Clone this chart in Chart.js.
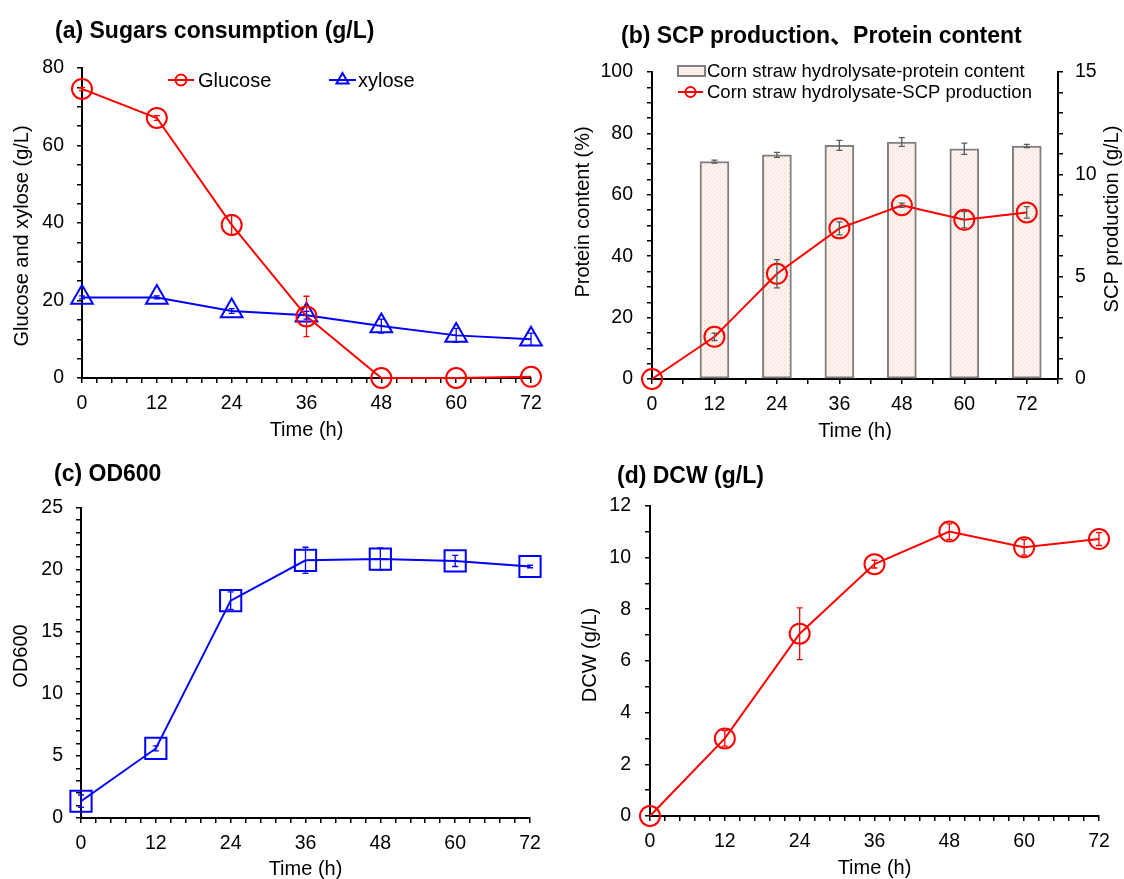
<!DOCTYPE html>
<html>
<head>
<meta charset="utf-8">
<script src="https://cdn.jsdelivr.net/npm/chart.js@4.4.1/dist/chart.umd.min.js"></script>
<style>
  body { margin: 0; background: #fff; width: 1124px; height: 879px; overflow: hidden; position: relative;
         font-family: "Liberation Sans", Arial, "Noto Sans CJK SC", sans-serif; }
  canvas { position: absolute; }
  .title { position: absolute; z-index: 2; font-weight: bold; font-size: 23px; line-height: 28px;
           white-space: nowrap; color: #000; }
</style>
</head>
<body>
<canvas id="chartA" width="560" height="440" style="left:0;top:0"></canvas>
<canvas id="chartB" width="564" height="440" style="left:560px;top:0"></canvas>
<canvas id="chartC" width="560" height="439" style="left:0;top:440px"></canvas>
<canvas id="chartD" width="564" height="439" style="left:560px;top:440px"></canvas>
<div class="title" style="left:55px;top:16px">(a) Sugars consumption (g/L)</div>
<div class="title" style="left:621px;top:21px">(b) SCP production、Protein content</div>
<div class="title" style="left:54px;top:459px">(c) OD600</div>
<div class="title" style="left:617px;top:461px">(d) DCW (g/L)</div>
<script>
// sampling times and tick labels
var hours = [0, 12, 24, 36, 48, 60, 72];
var timeTickLabels = [0, 12, 24, 36, 48, 60, 72];

// (a) sugars
var glucose = [74.6, 67.1, 39.5, 15.9, 0, 0, 0.3];
var glucoseErr = [0.4, 0.6, 2.6, 5.2, 0, 0, 0];
var xylose = [20.8, 20.8, 17.3, 16.2, 13.4, 11.0, 10.0];
var xyloseErr = [0.4, 0.4, 0.6, 1.0, 1.8, 1.8, 1.6];

// (b) protein content (bars) and SCP production (line)
var proteinHours = [12, 24, 36, 48, 60, 72];
var protein = [70.8, 73.0, 76.1, 77.2, 75.0, 75.9];
var proteinErr = [0.5, 0.8, 1.6, 1.4, 1.8, 0.5];
var scp = [0, 2.06, 5.14, 7.36, 8.49, 7.78, 8.14];
var scpErr = [0, 0.18, 0.69, 0.32, 0.1, 0.4, 0.28];

// (c) OD600
var od600 = [1.35, 5.6, 17.5, 20.75, 20.85, 20.7, 20.25];
var od600Err = [0.5, 0.2, 0.7, 1.05, 0.9, 0.45, 0.1];

// (d) DCW
var dcw = [0, 3.0, 7.05, 9.74, 11.0, 10.39, 10.71];
var dcwErr = [0, 0.3, 1.0, 0.15, 0.3, 0.3, 0.25];

var RED = '#ff0000', BLUE = '#0000ff', FONT = '"Liberation Sans", Arial, sans-serif';
Chart.defaults.font.family = FONT;
Chart.defaults.color = '#000';

function pts(xs, ys) {
  return xs.map(function (x, i) { return { x: x, y: ys[i] }; });
}

function drawMarker(ctx, kind, x, y, r) {
  ctx.beginPath();
  if (kind === 'triangle') {
    ctx.moveTo(x, y - r);
    ctx.lineTo(x + r * 0.866, y + r / 2);
    ctx.lineTo(x - r * 0.866, y + r / 2);
    ctx.closePath();
  } else {
    ctx.arc(x, y, r, 0, Math.PI * 2);
  }
  ctx.stroke();
}

// vertical error bars, drawn with the dataset's own y scale
var errorBars = {
  id: 'errorBars',
  afterDatasetsDraw: function (chart) {
    var ctx = chart.ctx;
    chart.data.datasets.forEach(function (ds, i) {
      if (!ds.errors) return;
      var meta = chart.getDatasetMeta(i);
      var ys = chart.scales[meta.yAxisID];
      ctx.save();
      ctx.strokeStyle = ds.errorColor;
      ctx.lineWidth = 1.3;
      meta.data.forEach(function (el, j) {
        var e = ds.errors[j];
        if (!e) return;
        var v = ds.data[j].y;
        var top = ys.getPixelForValue(v + e), bot = ys.getPixelForValue(v - e);
        ctx.beginPath();
        ctx.moveTo(el.x, top); ctx.lineTo(el.x, bot);
        ctx.moveTo(el.x - 3, top); ctx.lineTo(el.x + 3, top);
        ctx.moveTo(el.x - 3, bot); ctx.lineTo(el.x + 3, bot);
        ctx.stroke();
      });
      ctx.restore();
    });
  }
};

function makeLegend(items, size) {
  return {
    id: 'sampleLegend',
    afterDraw: function (chart) {
      var ctx = chart.ctx, a = chart.chartArea;
      ctx.save();
      ctx.font = size + 'px ' + FONT;
      ctx.textBaseline = 'middle';
      ctx.textAlign = 'left';
      items.forEach(function (it) {
        var x = a.left + it.dx, y = a.top + it.dy;
        ctx.lineWidth = 2;
        ctx.strokeStyle = it.color;
        if (it.kind === 'box') {
          ctx.fillStyle = it.fill;
          ctx.fillRect(x, y - 5, it.w, 10);
          ctx.strokeRect(x, y - 5, it.w, 10);
        } else {
          ctx.beginPath(); ctx.moveTo(x, y); ctx.lineTo(x + it.w, y); ctx.stroke();
          drawMarker(ctx, it.kind, x + it.w / 2, y, it.r);
        }
        ctx.fillStyle = '#000';
        ctx.fillText(it.text, x + it.tx, y + 1);
      });
      ctx.restore();
    }
  };
}

function makeSideTitles(items) {
  return {
    id: 'sideTitles',
    afterDraw: function (chart) {
      var ctx = chart.ctx;
      items.forEach(function (t) {
        ctx.save();
        ctx.translate(t.x, t.y);
        ctx.rotate(-Math.PI / 2);
        ctx.font = '20px ' + FONT;
        ctx.fillStyle = '#000';
        ctx.textAlign = 'center';
        ctx.textBaseline = 'middle';
        ctx.fillText(t.text, 0, 0);
        ctx.restore();
      });
    }
  };
}

function xAxis(max, step, height, titlePad) {
  return {
    type: 'linear', min: 0, max: max, offset: false,
    grid: { drawOnChartArea: false, offset: false, tickLength: 5, color: '#000', lineWidth: 1.5 },
    border: { color: '#000', width: 2 },
    ticks: { stepSize: step, autoSkip: false, maxRotation: 0, padding: 9, font: { size: 19.5 }, color: '#000',
      callback: function (v) { return timeTickLabels.indexOf(v) >= 0 ? String(v) : ''; } },
    title: { display: true, text: 'Time (h)', font: { size: 20 }, color: '#000', padding: { top: 0, bottom: titlePad } },
    afterFit: function (s) { s.height = height; }
  };
}

function yAxis(max, step, major, width, pad, pos) {
  return {
    type: 'linear', position: pos || 'left', min: 0, max: max,
    grid: { drawOnChartArea: false, tickLength: 5, color: '#000', lineWidth: 1.5 },
    border: { color: '#000', width: 2 },
    ticks: { stepSize: step, autoSkip: false, padding: pad, font: { size: 19.5 }, color: '#000',
      callback: function (v) { return v % major === 0 ? String(v) : ''; } },
    afterFit: function (s) { s.width = width; }
  };
}

function lineSet(label, ys, errs, color, style, r, axis) {
  return {
    type: 'line', label: label, data: pts(hours, ys), errors: errs, errorColor: color,
    yAxisID: axis || 'y', borderColor: color, borderWidth: 2, tension: 0, clip: false,
    pointStyle: style, pointRadius: r, pointBorderWidth: 2, pointBorderColor: color,
    pointBackgroundColor: 'rgba(0,0,0,0)', order: 1
  };
}

function baseOptions(padding) {
  return {
    responsive: false, animation: false, events: [],
    layout: { padding: padding },
    plugins: { legend: { display: false }, tooltip: { enabled: false } }
  };
}

// (a)
var optA = baseOptions({ left: 0, top: 68, right: 29, bottom: 0 });
optA.scales = { x: xAxis(72, 2.4, 62, -2), y: yAxis(80, 5, 20, 82, 13) };
new Chart(document.getElementById('chartA'), {
  type: 'line',
  data: { datasets: [
    lineSet('Glucose', glucose, glucoseErr, RED, 'circle', 10),
    lineSet('xylose', xylose, xyloseErr, BLUE, 'triangle', 12.5)
  ] },
  options: optA,
  plugins: [errorBars,
    makeLegend([
      { kind: 'circle', text: 'Glucose', color: RED, dx: 86, dy: 12, w: 26, r: 5.5, tx: 30 },
      { kind: 'triangle', text: 'xylose', color: BLUE, dx: 247, dy: 12, w: 27, r: 7, tx: 29 }
    ], 20),
    makeSideTitles([{ text: 'Glucose and xylose (g/L)', x: 22, y: 236 }])]
});

// (b)
function barPattern() {
  var c = document.createElement('canvas');
  c.width = 4; c.height = 4;
  var g = c.getContext('2d');
  g.fillStyle = '#fdf3ee'; g.fillRect(0, 0, 4, 4);
  g.fillStyle = '#f7d2bf'; g.fillRect(0, 0, 1, 1); g.fillRect(2, 2, 1, 1);
  return g.createPattern(c, 'repeat');
}
var pinkFill = barPattern();
var optB = baseOptions({ left: 0, top: 72, right: 0, bottom: 0 });
optB.scales = {
  x: xAxis(78, 6, 61, -3),
  y: yAxis(100, 5, 20, 92, 14),
  y1: yAxis(15, 1, 5, 66, 12, 'right')
};
var scpSet = lineSet('Corn straw hydrolysate-SCP production', scp, scpErr, RED, 'circle', 10, 'y1');
scpSet.errorColor = '#5a5a5a';
new Chart(document.getElementById('chartB'), {
  type: 'line',
  data: { datasets: [
    scpSet,
    {
      type: 'bar', label: 'Corn straw hydrolysate-protein content', data: pts(proteinHours, protein),
      errors: proteinErr, errorColor: '#5a5a5a', yAxisID: 'y', barThickness: 29,
      backgroundColor: pinkFill, borderColor: '#7f7f7f', borderWidth: 2, borderSkipped: false, order: 2
    }
  ] },
  options: optB,
  plugins: [errorBars,
    makeLegend([
      { kind: 'box', text: 'Corn straw hydrolysate-protein content', color: '#7f7f7f', fill: pinkFill, dx: 26, dy: -1, w: 27, tx: 29 },
      { kind: 'circle', text: 'Corn straw hydrolysate-SCP production', color: RED, dx: 26, dy: 20, w: 25, r: 5, tx: 29 }
    ], 18.5),
    makeSideTitles([
      { text: 'Protein content (%)', x: 23, y: 212 },
      { text: 'SCP production (g/L)', x: 552, y: 219 }
    ])]
});

// (c)
var optC = baseOptions({ left: 0, top: 67.5, right: 30, bottom: 0 });
optC.scales = { x: xAxis(72, 2.4, 61, -2), y: yAxis(25, 1, 5, 81, 13) };
new Chart(document.getElementById('chartC'), {
  type: 'line',
  data: { datasets: [lineSet('OD600', od600, od600Err, BLUE, 'rect', 15)] },
  options: optC,
  plugins: [errorBars, makeSideTitles([{ text: 'OD600', x: 21, y: 216 }])]
});

// (d)
var optD = baseOptions({ left: 0, top: 65.7, right: 25, bottom: 0 });
optD.scales = { x: xAxis(72, 2.4, 63, -1), y: yAxis(12, 1, 2, 90, 14) };
new Chart(document.getElementById('chartD'), {
  type: 'line',
  data: { datasets: [lineSet('DCW', dcw, dcwErr, RED, 'circle', 10)] },
  options: optD,
  plugins: [errorBars, makeSideTitles([{ text: 'DCW (g/L)', x: 30.6, y: 215 }])]
});
</script>
</body>
</html>
